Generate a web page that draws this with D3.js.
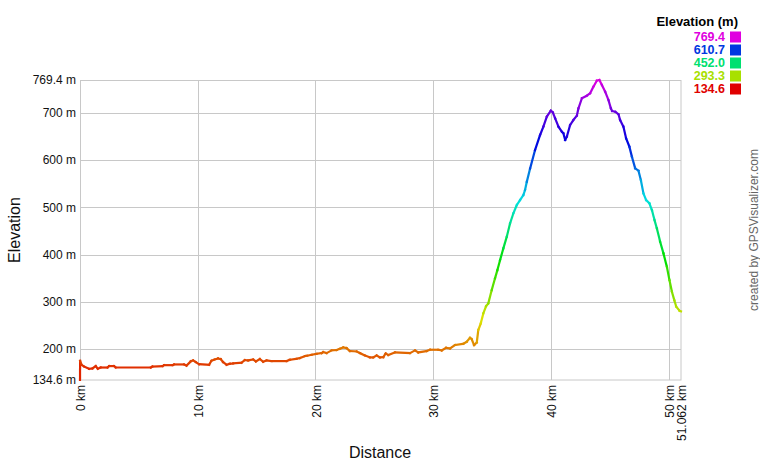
<!DOCTYPE html>
<html><head><meta charset="utf-8">
<script src="https://cdn.jsdelivr.net/npm/d3@7"></script>
<style>body{margin:0;background:#fff}svg{display:block}text{font-family:"Liberation Sans",Arial,sans-serif}</style>
</head><body><svg id="c" width="760" height="460"></svg>
<script>
const distKm = [0,0.01,0.14,0.34,0.77,1.05,1.34,1.51,1.76,2.33,2.47,2.89,3.04,6.01,6.16,7.01,7.14,7.86,7.99,8.84,9.05,9.41,9.61,9.84,10.12,10.97,11.17,11.45,11.73,11.96,12.16,12.45,12.73,13.01,13.72,14.0,14.29,14.71,14.94,15.28,15.56,15.85,16.28,17.55,17.83,18.4,18.68,19.11,19.3,19.68,20.1,20.53,20.66,20.95,21.38,21.8,22.08,22.36,22.65,22.93,23.5,23.78,24.21,24.63,24.91,25.2,25.48,25.77,25.97,26.19,26.76,28.04,28.46,28.74,29.46,29.74,30.44,30.73,31.1,31.44,31.86,32.57,32.86,33.14,33.28,33.48,33.71,33.84,34.05,34.27,34.5,34.69,34.98,35.26,35.46,35.69,35.97,36.26,36.54,36.82,37.11,37.39,37.67,37.81,37.96,38.24,38.66,39.09,39.37,39.66,40.0,40.17,40.37,40.65,40.94,41.07,41.22,41.36,41.64,41.92,42.21,42.35,42.64,43.06,43.34,43.62,43.91,44.13,44.34,44.62,44.9,45.1,45.21,45.47,45.75,45.89,46.17,46.4,46.68,46.89,47.17,47.45,47.65,47.87,48.1,48.38,48.59,48.81,49.01,49.29,49.57,49.86,50.08,50.29,50.49,50.66,50.94,51.062];
const elevM = [134.6,175.2,166.8,163.2,158.3,159,164,158.3,161,161,164,164,161,161,163,164,166,166,167.5,167.5,165,174,176,172.5,168,166.8,175.3,178.1,180.2,178.8,172.5,166.8,169,169.7,171,176.7,176,178,174,178.8,173.2,176,174.6,174.6,177.4,179.5,181,185.2,186,188,190,191.5,193.6,191.5,197.2,197.9,200.7,203.5,202,195.8,195,191.5,186.6,182.4,182.4,186.6,182.4,183,190.8,187.3,193,191.5,197.2,193,195.8,198.6,198.6,197.2,202.8,201.4,208.5,211.3,215.5,224,221,208.5,214,240.3,254.5,275.6,291,296.8,325,349.7,367,388.4,413.2,437.8,466,487.3,504.8,515.4,526,536.6,554,582,621,653,670.6,691.7,704.5,701,688.4,670.6,660,656.6,642.4,649.4,674.2,684.8,693.9,709.5,730.7,736.2,741.2,755.2,768,769.4,758.8,744.6,727,709.5,703.8,702.3,696.8,684.7,670.6,646,628.2,607,582.5,577.4,557.8,529.6,515.4,508.4,494.3,473.1,455.5,427.2,402.6,374.3,346.1,321.4,303.8,289.6,281.1,280];
const yTicks = [200,300,400,500,600,700];
const xTicks = [0,10,20,30,40,50];
const legendVals = [769.4,610.7,452.0,293.3,134.6];
const eMin = 134.6, eMax = 769.4, dMax = 51.062;

const svg = d3.select("#c");
const x = d3.scaleLinear().domain([0, dMax]).range([80, 681]);
const y = d3.scaleLinear().domain([eMin, eMax]).range([380, 80]);
const hue = d3.scaleLinear().domain([eMin, eMax]).range([0, 300]);
const col = e => d3.hsl(hue(e), 1, 0.44).formatHex();
const grid = "#c8c8c8";

// grid
const g = svg.append("g");
g.selectAll(".hy").data(yTicks).join("line")
  .attr("x1", 80).attr("x2", 681).attr("y1", d => Math.round(y(d)) + 0.5).attr("y2", d => Math.round(y(d)) + 0.5)
  .attr("stroke", grid);
g.selectAll(".vx").data(xTicks).join("line")
  .attr("y1", 80).attr("y2", 380).attr("x1", d => Math.round(x(d)) + 0.5).attr("x2", d => Math.round(x(d)) + 0.5)
  .attr("stroke", grid);
g.append("rect").attr("x", 80.5).attr("y", 80.5).attr("width", 600.5).attr("height", 299.5)
  .attr("fill", "none").attr("stroke", grid);

// y labels
const yLab = [eMin].concat(yTicks).concat([eMax]);
svg.append("g").selectAll("text").data(yLab).join("text")
  .attr("x", 76).attr("y", d => y(d)).attr("dy", "0.35em").attr("text-anchor", "end")
  .attr("font-size", 12).attr("fill", "#111")
  .text(d => (d === eMin || d === eMax ? d.toFixed(1) : d) + " m");

// x labels
const xLab = xTicks.map(d => [d, d + " km"]).concat([[dMax, dMax.toFixed(3) + " km"]]);
svg.append("g").selectAll("text").data(xLab).join("text")
  .attr("transform", d => `translate(${x(d[0]) + 1},385) rotate(-90)`)
  .attr("dy", "0.35em").attr("text-anchor", "end").attr("font-size", 12).attr("fill", "#111")
  .text(d => d[1]);

// axis titles
svg.append("text").attr("x", 380).attr("y", 458).attr("text-anchor", "middle")
  .attr("font-size", 16).attr("fill", "#111").text("Distance");
svg.append("text").attr("transform", "translate(20,230) rotate(-90)").attr("text-anchor", "middle")
  .attr("font-size", 16).attr("fill", "#111").text("Elevation");
svg.append("text").attr("transform", "translate(758,230) rotate(-90)").attr("text-anchor", "middle")
  .attr("font-size", 12).attr("fill", "#666").text("created by GPSVisualizer.com");

// profile line segments
const segs = d3.range(distKm.length - 1);
svg.append("g").selectAll("line").data(segs).join("line")
  .attr("x1", i => x(distKm[i])).attr("y1", i => y(elevM[i]))
  .attr("x2", i => x(distKm[i + 1])).attr("y2", i => y(elevM[i + 1]))
  .attr("stroke", i => col((elevM[i] + elevM[i + 1]) / 2))
  .attr("stroke-width", 2.2).attr("stroke-linecap", "square");

// legend
svg.append("text").attr("x", 738).attr("y", 26).attr("text-anchor", "end")
  .attr("font-size", 13).attr("font-weight", "bold").attr("fill", "#000").text("Elevation (m)");
const lg = svg.append("g").selectAll("g").data(legendVals).join("g")
  .attr("transform", (d, i) => `translate(0,${36.5 + i * 13})`);
lg.append("text").attr("x", 725).attr("dy", "0.36em").attr("text-anchor", "end")
  .attr("font-size", 12.5).attr("font-weight", "bold").attr("fill", d => col(d)).text(d => d.toFixed(1));
lg.append("rect").attr("x", 730).attr("y", -5).attr("width", 11).attr("height", 11).attr("fill", d => col(d));
</script></body></html>
